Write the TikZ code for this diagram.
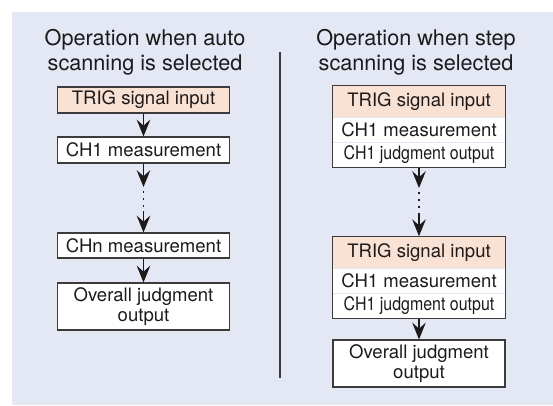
\documentclass[tikz,border=0pt]{standalone}
\usepackage{fontspec}
\setmainfont{TeX Gyre Heros}
\usepackage{xcolor}
\usepackage{graphicx}
\usepackage{tikz}
\usetikzlibrary{positioning, fit, arrows.meta}

\definecolor{panel}{RGB}{228,232,244}
\definecolor{peach}{RGB}{249,225,212}
\definecolor{edge}{RGB}{60,58,58}
\definecolor{ink}{RGB}{30,26,27}

\begin{document}
\begin{tikzpicture}[
        title/.style={align=center, text=ink, font=\fontsize{15.4}{17.8}\selectfont},
        box/.style={rectangle, draw=edge, line width=0.8pt, fill=white, minimum width=4.32cm, minimum height=0.65cm, inner sep=0pt, align=center, text=ink, font=\fontsize{13.2}{14.6}\selectfont},
        head/.style={rectangle, fill=peach, minimum width=4.3cm, minimum height=0.775cm, inner sep=0pt, text=ink, font=\fontsize{13.2}{14.6}\selectfont},
        row/.style={rectangle, fill=white, minimum width=4.3cm, minimum height=0.6125cm, inner sep=0pt, text=ink, font=\fontsize{13.2}{14.6}\selectfont},
        frame/.style={rectangle, draw=edge, line width=0.8pt, inner sep=0pt},
        arrow/.style={-{Stealth[length=4.2mm, width=3.4mm, inset=1.5mm]}, line width=0.8pt, draw=ink},
        gap/.style={line width=1.4pt, dash pattern=on 1.3pt off 3.7pt, draw=ink}
    ]
        \useasboundingbox (0,0) rectangle (13.825,10.125);
        \fill[white] (0,0) rectangle (13.825,10.125);
        \fill[panel] (0.3,0) rectangle (13.825,9.825);

        % Auto scanning
        \node[title] (autotitle) at (3.625, 8.8125) {Operation when auto\\scanning is selected};
        \node[box, fill=peach] (trigA) at (3.5875, 7.625) {TRIG signal input};
        \node[box] (ch1A) at (3.5875, 6.375) {CH1 measurement};
        \coordinate (gapAtop) at (3.5875, 5.45);
        \coordinate (gapAbot) at (3.5875, 4.85);
        \node[box, minimum height=0.625cm] (chnA) at (3.5875, 3.9875) {CHn measurement};
        \node[box, minimum height=1.175cm] (overA) at (3.5875, 2.4625) {Overall judgment\\output};

        % Divider
        \draw[edge, line width=1pt] (7,8.825) -- (7,0.675);

        % Step scanning
        \node[title] (steptitle) at (10.4, 8.8125) {Operation when step\\scanning is selected};
        \node[head] (trig1) at (10.475, 7.5875) {TRIG signal input};
        \node[row, below=0pt of trig1] (meas1) {CH1 measurement};
        \node[row, below=0pt of meas1] (judge1) {\scalebox{0.86}[1]{CH1 judgment output}};
        \node[frame, fit=(trig1)(judge1)] (step1) {};
        \coordinate (gapBtop) at (10.475, 5.425);
        \coordinate (gapBbot) at (10.475, 4.8);
        \node[head] (trig2) at (10.475, 3.8125) {TRIG signal input};
        \node[row, below=0pt of trig2] (meas2) {CH1 measurement};
        \node[row, below=0pt of meas2] (judge2) {\scalebox{0.86}[1]{CH1 judgment output}};
        \node[frame, fit=(trig2)(judge2)] (step2) {};
        \node[box, minimum width=4.3cm, minimum height=1.175cm] (overB) at (10.475, 1.0375) {Overall judgment\\output};

        % Arrows
        \draw[arrow] (trigA) -- (ch1A);
        \draw[arrow] (ch1A) -- (gapAtop);
        \draw[gap, shorten <=3pt] (gapAtop) -- (gapAbot);
        \draw[arrow] (gapAbot) -- (chnA);
        \draw[arrow] (chnA) -- (overA);
        \draw[arrow] (step1) -- (gapBtop);
        \draw[gap, shorten <=3pt] (gapBtop) -- (gapBbot);
        \draw[arrow] (gapBbot) -- (step2);
        \draw[arrow] (step2) -- (overB);
    \end{tikzpicture}
\end{document}
